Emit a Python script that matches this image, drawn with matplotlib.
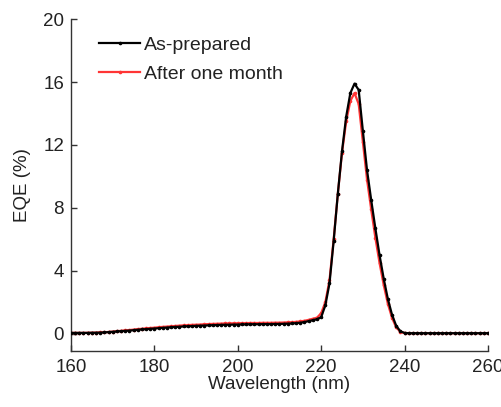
import numpy as np
import matplotlib.pyplot as plt

plt.rcParams['font.family'] = ['Liberation Sans', 'DejaVu Sans']

wavelength = np.arange(160, 261)

# As-prepared EQE (%), 1 nm steps from 160 to 260
eqe_fresh = [0.05, 0.05, 0.05, 0.05, 0.05, 0.06, 0.06, 0.07, 0.08, 0.10,
             0.12, 0.14, 0.16, 0.18, 0.20, 0.22, 0.25, 0.27, 0.29, 0.31,
             0.33, 0.35, 0.37, 0.39, 0.41, 0.43, 0.44, 0.46, 0.47, 0.48,
             0.50, 0.51, 0.52, 0.53, 0.54, 0.55, 0.56, 0.57, 0.57, 0.58,
             0.58, 0.59, 0.59, 0.60, 0.60, 0.60, 0.61, 0.61, 0.61, 0.62,
             0.62, 0.63, 0.64, 0.65, 0.67, 0.70, 0.74, 0.80, 0.86, 0.92,
             1.05, 1.8, 3.2, 5.9, 8.9, 11.6, 13.8, 15.3, 15.9, 15.5,
             12.9, 10.4, 8.5, 6.7, 5.0, 3.5, 2.2, 1.2, 0.5, 0.15,
             0.05, 0.03, 0.03, 0.03, 0.03, 0.03, 0.03, 0.03, 0.03, 0.03,
             0.03, 0.03, 0.03, 0.03, 0.03, 0.03, 0.03, 0.03, 0.03, 0.03,
             0.03]

# After one month
eqe_month = [0.05, 0.05, 0.05, 0.05, 0.06, 0.06, 0.07, 0.08, 0.09, 0.11,
             0.13, 0.16, 0.18, 0.21, 0.23, 0.26, 0.29, 0.31, 0.34, 0.36,
             0.38, 0.41, 0.43, 0.45, 0.47, 0.49, 0.51, 0.53, 0.54, 0.56,
             0.57, 0.58, 0.60, 0.61, 0.62, 0.63, 0.64, 0.65, 0.65, 0.66,
             0.66, 0.67, 0.67, 0.68, 0.68, 0.68, 0.69, 0.69, 0.69, 0.70,
             0.70, 0.71, 0.72, 0.73, 0.75, 0.78, 0.82, 0.88, 0.95, 1.02,
             1.3, 2.0, 3.4, 6.0, 8.9, 11.5, 13.5, 14.8, 15.3, 14.6,
             12.2, 9.8, 7.9, 6.1, 4.5, 3.1, 1.9, 1.0, 0.4, 0.12,
             0.04, 0.03, 0.03, 0.03, 0.03, 0.03, 0.03, 0.03, 0.03, 0.03,
             0.03, 0.03, 0.03, 0.03, 0.03, 0.03, 0.03, 0.03, 0.03, 0.03,
             0.03]

fig = plt.figure(figsize=(5.02, 4.07), dpi=100)
ax = fig.add_axes([0.1414, 0.1376, 0.8306, 0.8154])

ax.plot(wavelength, eqe_fresh, color='black', lw=1.6, marker='o', ms=1.6,
        label='As-prepared', zorder=3)
ax.plot(wavelength, eqe_month, color='#ff3535', lw=1.6, marker='o', ms=1.6,
        label='After one month', zorder=2)

ax.set_xlim(160, 260)
ax.set_ylim(-1.1, 20)
ax.set_xticks(np.arange(160, 261, 20))
ax.set_yticks(np.arange(0, 21, 4))
ax.set_xlabel('Wavelength (nm)', fontsize=13.5, labelpad=0, color='#222222')
ax.set_ylabel('EQE (%)', fontsize=13.5, labelpad=9, color='#222222')
ax.tick_params(direction='in', length=4, labelsize=13.5, width=1,
               color='#333333', labelcolor='#222222')
ax.tick_params(axis='x', pad=6)
ax.tick_params(axis='y', pad=5)
ax.spines['top'].set_visible(False)
ax.spines['right'].set_visible(False)
for s in ['left', 'bottom']:
    ax.spines[s].set_color('#333333')
    ax.spines[s].set_linewidth(1)

leg = ax.legend(loc='upper left', bbox_to_anchor=(0.068, 0.948), frameon=False,
                fontsize=14, handlelength=2.1, handletextpad=0.2,
                labelspacing=0.6, borderpad=0, borderaxespad=0)
for t in leg.get_texts():
    t.set_color('#222222')

fig.savefig('out.png', dpi=100)
